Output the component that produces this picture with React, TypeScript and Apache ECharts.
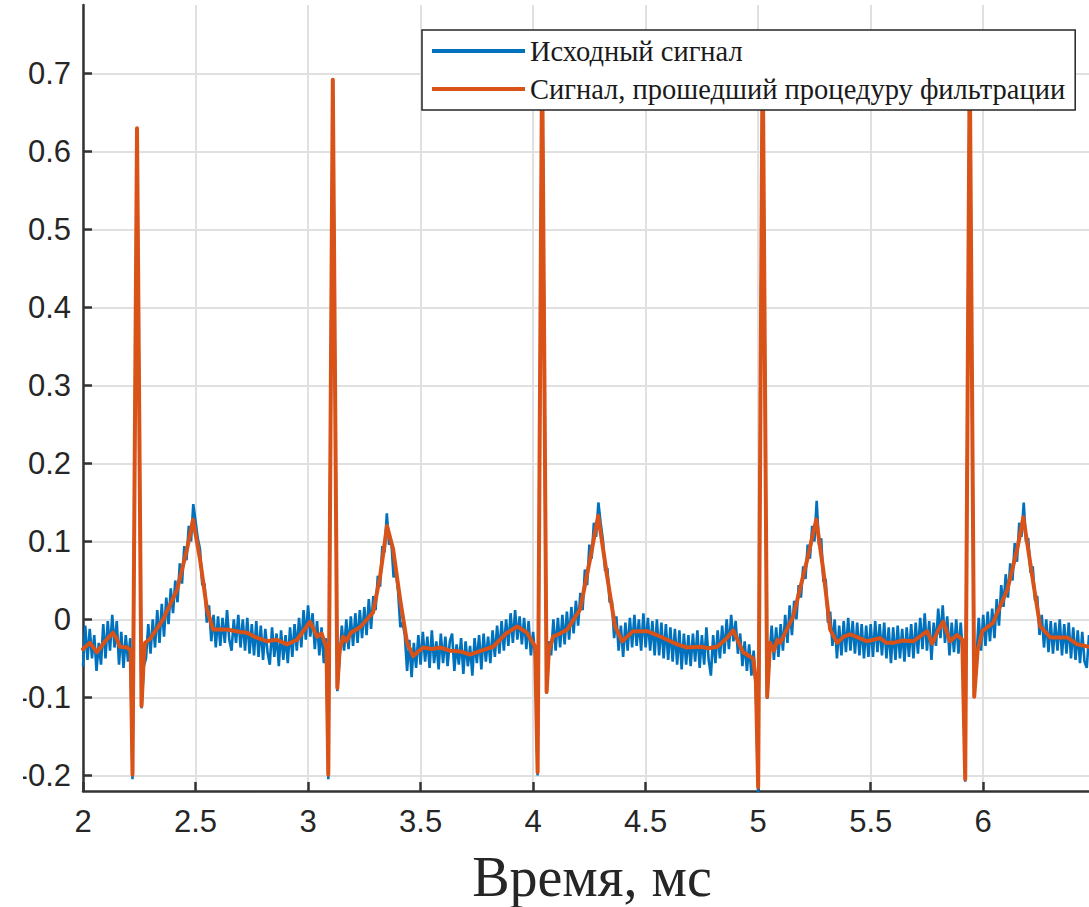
import React, { useEffect, useRef } from "react";
import * as echarts from "echarts";

// ---- data ----
const xTicks = [2, 2.5, 3, 3.5, 4, 4.5, 5, 5.5, 6];
const yTicks = [-0.2, -0.1, 0, 0.1, 0.2, 0.3, 0.4, 0.5, 0.6, 0.7];
const legendNames = ["Исходный сигнал", "Сигнал, прошедший процедуру фильтрации"];
const xAxisTitle = "Время, мс";

// raw (noisy) signal sampled every 0.01 ms starting at 2.00 ms
const rawStart = 2.0;
const rawStep = 0.01;
const rawSignal = [
  -0.060, -0.008, -0.052, -0.012, -0.050, -0.020, -0.066, -0.030, -0.058, -0.006,
  -0.050, -0.002, -0.040, 0.006, -0.036, -0.002, -0.058, -0.016, -0.062, -0.020,
  -0.054, -0.024, -0.205, 0.215, 0.630, 0.260, -0.114, -0.060, -0.050, -0.006,
  -0.044, 0.000, -0.036, 0.012, -0.030, 0.020, -0.022, 0.028, -0.006, 0.040,
  0.008, 0.050, 0.022, 0.072, 0.046, 0.094, 0.076, 0.120, 0.100, 0.148,
  0.126, 0.104, 0.090, 0.044, 0.046, -0.004, 0.018, -0.028, 0.006, -0.036,
  0.004, -0.034, 0.002, -0.030, 0.012, -0.026, -0.040, 0.000, -0.030, 0.006,
  -0.036, 0.000, -0.040, 0.002, -0.044, -0.006, -0.046, -0.002, -0.048, -0.008,
  -0.052, -0.012, -0.042, -0.058, -0.010, -0.048, -0.018, -0.060, -0.014, -0.052,
  -0.020, -0.056, -0.010, -0.048, -0.006, -0.040, 0.002, -0.036, 0.012, -0.026,
  0.018, -0.022, 0.008, -0.038, -0.002, -0.046, -0.010, -0.056, -0.024, -0.205,
  0.246, 0.692, 0.302, -0.092, -0.050, -0.008, -0.040, 0.000, -0.038, 0.004,
  -0.034, 0.008, -0.030, 0.012, -0.024, 0.016, -0.020, 0.026, -0.012, 0.030,
  0.012, 0.056, 0.042, 0.094, 0.086, 0.136, 0.096, 0.100, 0.054, 0.062,
  0.036, -0.010, -0.004, -0.020, -0.066, -0.026, -0.074, -0.030, -0.062, -0.020,
  -0.058, -0.016, -0.054, -0.022, -0.062, -0.014, -0.056, -0.028, -0.064, -0.018,
  -0.056, -0.022, -0.060, -0.028, -0.018, -0.066, -0.032, -0.058, -0.024, -0.070,
  -0.028, -0.060, -0.034, -0.072, -0.024, -0.056, -0.020, -0.064, -0.018, -0.054,
  -0.022, -0.056, -0.014, -0.048, -0.008, -0.044, -0.002, -0.040, 0.000, -0.034,
  0.008, -0.030, 0.012, -0.026, 0.004, -0.032, 0.002, -0.038, -0.002, -0.046,
  -0.016, -0.050, -0.200, 0.267, 0.730, 0.319, -0.095, -0.028, -0.046, 0.000,
  -0.040, 0.002, -0.036, 0.006, -0.032, 0.010, -0.026, 0.016, -0.018, 0.024,
  -0.008, 0.034, 0.012, 0.064, 0.044, 0.096, 0.078, 0.124, 0.106, 0.150,
  0.124, 0.102, 0.062, 0.066, 0.022, 0.024, -0.024, 0.004, -0.040, -0.008,
  -0.048, -0.004, -0.040, 0.002, -0.036, 0.006, -0.034, 0.000, -0.040, 0.008,
  -0.036, 0.002, -0.040, -0.002, -0.046, 0.000, -0.046, -0.004, -0.050, -0.006,
  -0.052, -0.010, -0.054, -0.012, -0.058, -0.014, -0.064, -0.018, -0.058, -0.020,
  -0.060, -0.018, -0.054, -0.014, -0.062, -0.020, -0.058, -0.010, -0.052, -0.072,
  -0.020, -0.056, -0.014, -0.050, -0.008, -0.044, 0.000, -0.038, 0.006, -0.028,
  -0.002, -0.044, -0.018, -0.060, -0.028, -0.066, -0.032, -0.072, -0.040, -0.090,
  -0.225, 0.263, 0.740, 0.320, -0.102, -0.050, -0.008, -0.052, -0.010, -0.048,
  -0.006, -0.040, 0.006, -0.030, 0.018, -0.020, 0.024, 0.000, 0.044, 0.028,
  0.068, 0.052, 0.096, 0.078, 0.120, 0.100, 0.152, 0.096, 0.104, 0.048,
  0.052, -0.004, 0.010, -0.034, 0.000, -0.050, -0.008, -0.046, -0.002, -0.042,
  0.002, -0.040, -0.002, -0.044, -0.004, -0.046, -0.006, -0.050, -0.008, -0.048,
  -0.006, -0.048, -0.002, -0.042, -0.006, -0.046, -0.004, -0.050, -0.010, -0.056,
  -0.010, -0.052, -0.008, -0.050, -0.012, -0.054, -0.010, -0.048, -0.006, -0.050,
  -0.004, -0.044, 0.002, -0.038, 0.008, -0.040, -0.002, -0.052, -0.004, -0.034,
  0.014, -0.024, 0.018, -0.030, 0.004, -0.046, -0.004, -0.042, 0.000, -0.044,
  -0.004, -0.046, -0.208, 0.258, 0.720, 0.310, -0.100, -0.050, 0.002, -0.040,
  0.006, -0.034, 0.010, -0.028, 0.014, -0.024, 0.026, -0.008, 0.044, 0.016,
  0.058, 0.028, 0.072, 0.050, 0.098, 0.074, 0.124, 0.106, 0.150, 0.100,
  0.104, 0.060, 0.068, 0.024, 0.030, -0.020, 0.006, -0.036, 0.000, -0.042,
  -0.002, -0.044, -0.004, -0.040, 0.000, -0.046, -0.006, -0.044, -0.004, -0.050,
  -0.010, -0.052, -0.014, -0.056, -0.016, -0.054, -0.062, -0.020,
];

// filtered signal: [time ms, value]
const filteredSignal: [number, number][] = [
  [2.000, -0.038], [2.031, -0.030], [2.062, -0.042], [2.098, -0.028], [2.133, -0.017],
  [2.150, -0.025], [2.164, -0.035], [2.196, -0.036], [2.212, -0.040],
  [2.220, -0.199], [2.240, 0.630], [2.260, -0.111], [2.270, -0.050], [2.276, -0.030],
  [2.298, -0.025], [2.356, 0.000], [2.418, 0.038], [2.462, 0.090], [2.489, 0.128],
  [2.520, 0.077], [2.551, 0.013], [2.578, -0.013], [2.640, -0.013], [2.700, -0.016],
  [2.729, -0.017], [2.760, -0.022], [2.818, -0.028], [2.860, -0.026], [2.907, -0.032],
  [2.951, -0.026], [3.009, -0.003], [3.040, -0.022], [3.060, -0.018], [3.082, -0.037],
  [3.090, -0.199], [3.110, 0.692], [3.130, -0.088], [3.140, -0.040], [3.156, -0.022],
  [3.170, -0.028], [3.190, -0.017], [3.231, -0.010], [3.289, 0.009], [3.320, 0.055],
  [3.351, 0.120], [3.378, 0.090], [3.409, 0.026], [3.440, -0.030], [3.467, -0.047],
  [3.511, -0.036], [3.550, -0.038], [3.587, -0.036], [3.630, -0.040], [3.676, -0.041],
  [3.720, -0.045], [3.770, -0.040], [3.822, -0.035], [3.880, -0.018], [3.929, -0.009],
  [3.973, -0.017], [4.009, -0.035],
  [4.020, -0.196], [4.040, 0.730], [4.060, -0.093], [4.070, -0.040], [4.089, -0.022],
  [4.120, -0.018], [4.151, -0.013], [4.209, 0.013], [4.253, 0.077], [4.289, 0.133],
  [4.329, 0.055], [4.364, -0.009], [4.396, -0.028], [4.444, -0.015], [4.507, -0.015],
  [4.550, -0.020], [4.596, -0.026], [4.640, -0.032], [4.684, -0.036], [4.742, -0.035],
  [4.780, -0.037], [4.818, -0.035], [4.860, -0.024], [4.889, -0.014], [4.933, -0.042],
  [4.978, -0.050], [4.990, -0.080],
  [5.000, -0.215], [5.020, 0.740], [5.040, -0.099], [5.053, -0.030], [5.070, -0.040],
  [5.085, -0.026], [5.098, -0.030], [5.156, 0.004], [5.218, 0.077], [5.258, 0.128],
  [5.289, 0.064], [5.320, -0.013], [5.351, -0.030], [5.380, -0.022], [5.409, -0.019],
  [5.450, -0.024], [5.484, -0.028], [5.542, -0.024], [5.570, -0.030], [5.600, -0.030],
  [5.640, -0.027], [5.689, -0.028], [5.751, -0.015], [5.773, -0.031], [5.800, -0.014],
  [5.822, -0.003], [5.853, -0.028], [5.884, -0.020], [5.907, -0.026],
  [5.920, -0.205], [5.940, 0.720], [5.960, -0.099], [5.975, -0.040], [5.996, -0.015],
  [6.044, -0.004], [6.107, 0.038], [6.151, 0.090], [6.178, 0.131], [6.218, 0.055],
  [6.253, -0.009], [6.298, -0.023], [6.373, -0.023], [6.418, -0.032], [6.470, -0.035],
];

const BLUE = "#0072BD";
const ORANGE = "#D95319";
const AXIS = "#333333";
const TEXT = "#262626";

export default function App() {
  const ref = useRef<HTMLDivElement>(null);

  useEffect(() => {
    if (!ref.current) return;
    const chart = echarts.init(ref.current, undefined, { renderer: "svg" });
    const rawData = rawSignal.map((v, i) => [Number((rawStart + i * rawStep).toFixed(2)), v]);

    const option: any = {
      animation: false,
      backgroundColor: "#ffffff",
      grid: { left: 83, top: 5, right: 0, bottom: 116, containLabel: false },
      xAxis: {
        type: "value",
        min: 2,
        max: 6.47,
        axisLine: { show: true, onZero: false, lineStyle: { color: AXIS, width: 2.5 } },
        axisTick: {
          show: true, inside: true, length: 9, customValues: xTicks,
          lineStyle: { color: AXIS, width: 2.5 },
        },
        axisLabel: {
          customValues: xTicks, margin: 15, color: TEXT,
          fontFamily: "'Liberation Sans', Arial, sans-serif", fontSize: 31,
          formatter: (v: number) => String(v),
        },
        splitLine: { show: true, lineStyle: { color: "#e0e0e0", width: 2 } },
      },
      yAxis: {
        type: "value",
        min: -0.22,
        max: 0.788,
        axisLine: { show: true, onZero: false, lineStyle: { color: AXIS, width: 2.5 } },
        axisTick: {
          show: true, inside: true, length: 9, customValues: yTicks,
          lineStyle: { color: AXIS, width: 2.5 },
        },
        axisLabel: {
          customValues: yTicks, margin: 12, color: TEXT,
          fontFamily: "'Liberation Sans', Arial, sans-serif", fontSize: 31,
          formatter: (v: number) => (Math.abs(v) < 1e-9 ? "0" : v.toFixed(1)),
        },
        splitLine: { show: true, lineStyle: { color: "#e0e0e0", width: 2 } },
      },
      legend: {
        left: 422,
        top: 30,
        orient: "vertical",
        backgroundColor: "#ffffff",
        borderColor: "#262626",
        borderWidth: 1.5,
        borderRadius: 0,
        padding: [6, 10, 6, 10],
        itemGap: 8,
        itemWidth: 93,
        itemHeight: 4,
        icon: "rect",
        textStyle: {
          fontFamily: "'Liberation Serif', 'Times New Roman', serif",
          fontSize: 28.5, color: "#1a1a1a", lineHeight: 30,
        },
        data: legendNames,
      },
      graphic: [
        {
          type: "rect", left: 0, top: 0, z: 100,
          shape: { x: 0, y: 0, width: 23, height: 800 },
          style: { fill: "#ffffff" },
        },
        {
          type: "text", x: 592, y: 877, z: 100,
          style: {
            text: xAxisTitle, align: "center", verticalAlign: "middle",
            fontFamily: "'Liberation Serif', 'Times New Roman', serif",
            fontSize: 56, fill: "#262626",
          },
        },
      ],
      series: [
        {
          name: legendNames[0],
          type: "line",
          data: rawData,
          showSymbol: false,
          symbol: "none",
          color: BLUE,
          lineStyle: { color: BLUE, width: 2.6 },
          silent: true,
          z: 2,
        },
        {
          name: legendNames[1],
          type: "line",
          data: filteredSignal,
          showSymbol: false,
          symbol: "none",
          color: ORANGE,
          lineStyle: { color: ORANGE, width: 4, join: "round", cap: "round" },
          silent: true,
          z: 3,
        },
      ],
    };
    chart.setOption(option);
    return () => chart.dispose();
  }, []);

  return (
    <div
      ref={ref}
      style={{ position: "fixed", left: 0, top: 0, width: 1089, height: 907, background: "#fff" }}
    />
  );
}
